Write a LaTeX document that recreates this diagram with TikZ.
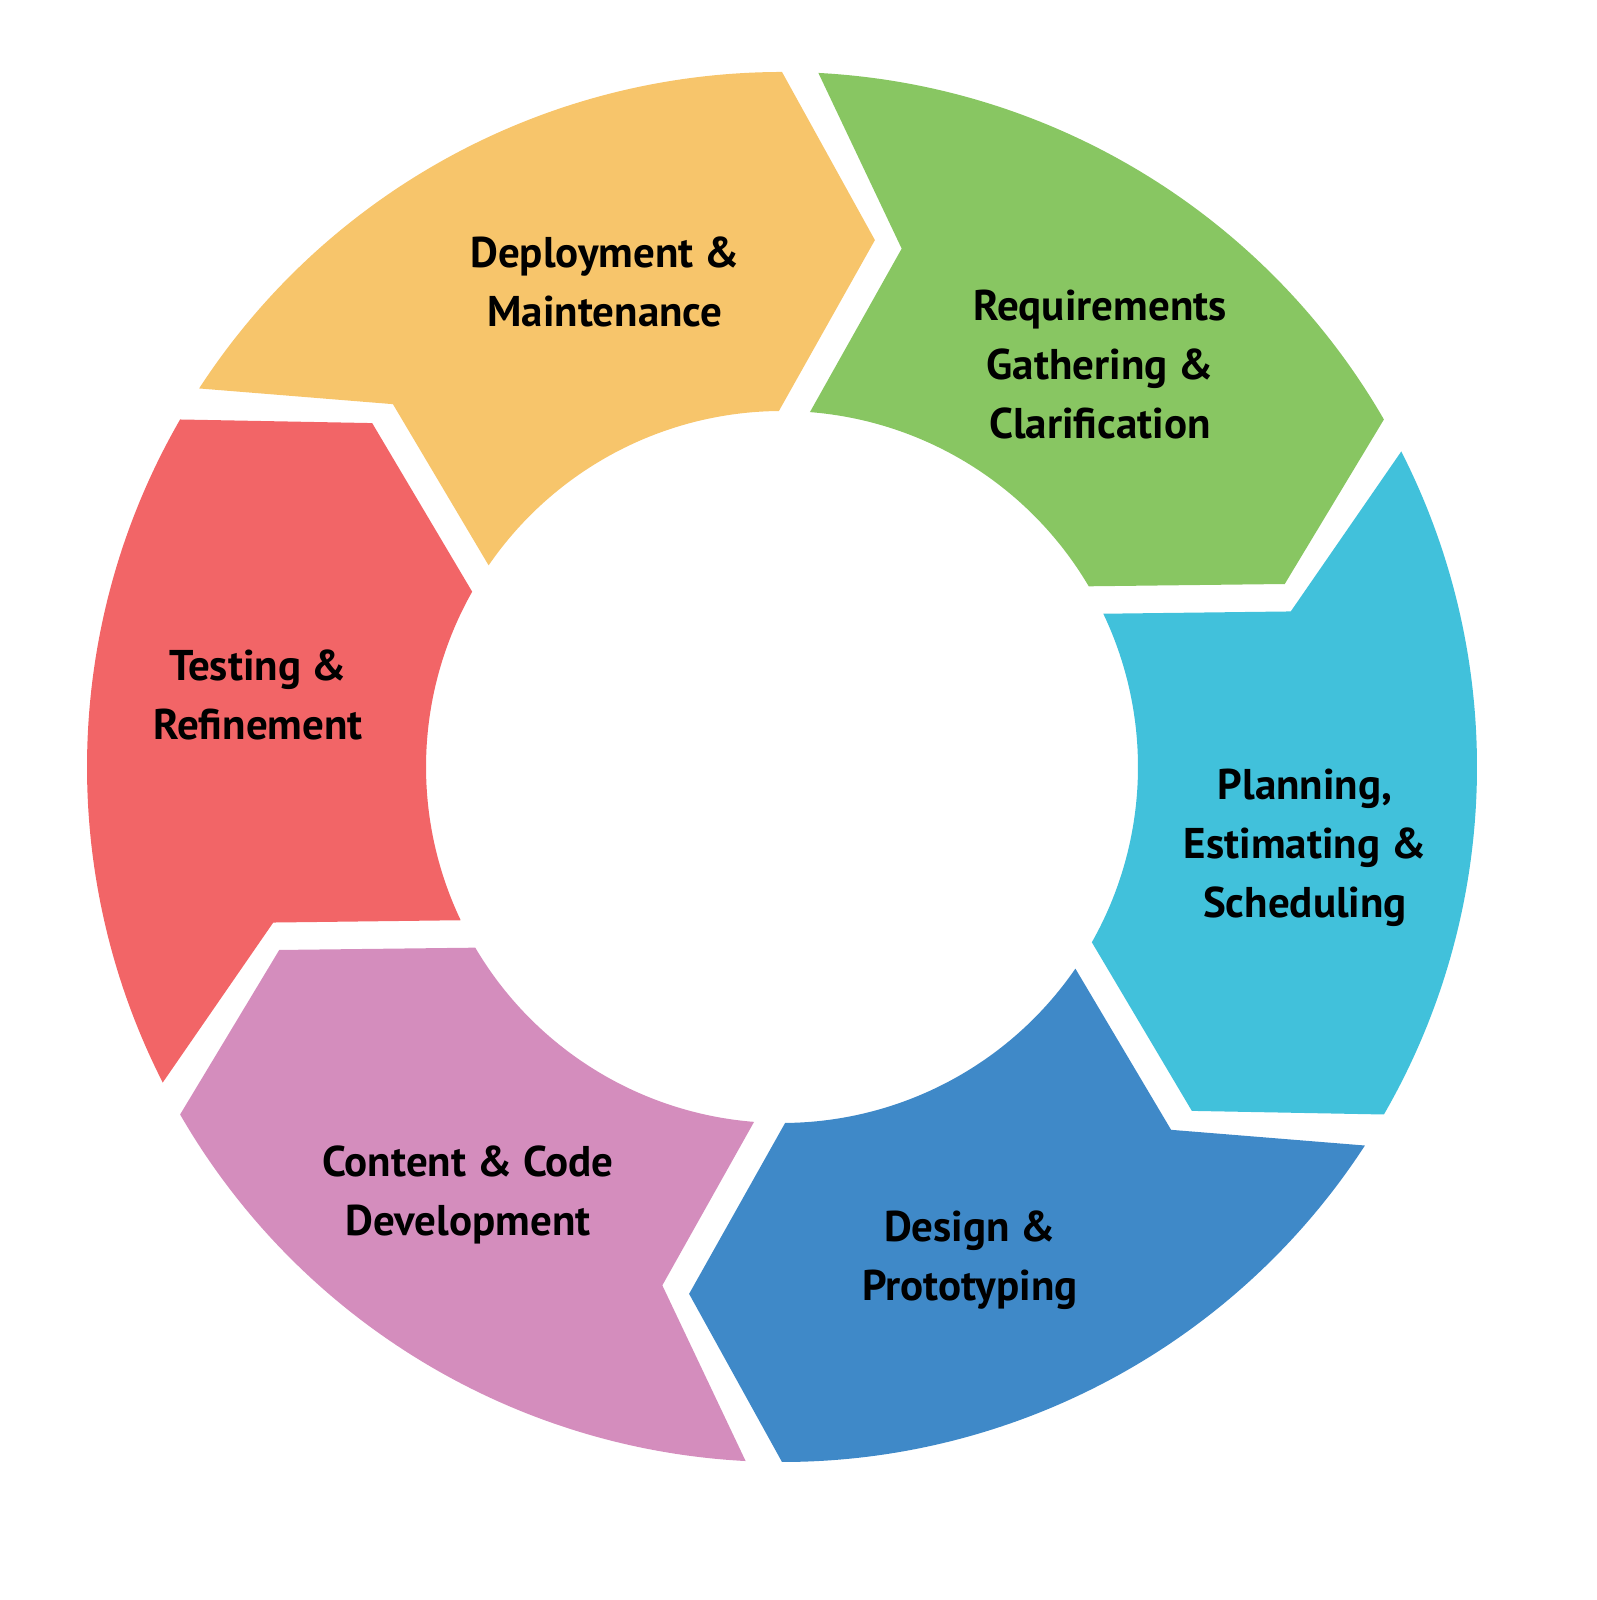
\documentclass[tikz,border=0pt]{standalone}
\usetikzlibrary{calc}
\usepackage{fontspec}
\setmainfont{PT Sans}
\definecolor{cy}{HTML}{F7C56B}
\definecolor{cg}{HTML}{88C662}
\definecolor{cc}{HTML}{41C1DB}
\definecolor{cb}{HTML}{3F89C8}
\definecolor{cp}{HTML}{D48DBD}
\definecolor{cr}{HTML}{F26567}
\begin{document}
\begin{tikzpicture}[x=1pt,y=1pt,
  lab/.style={align=center,font=\bfseries\fontsize{43}{59}\selectfont,text=black}]
\useasboundingbox (0,0) rectangle (1597,1600);
\coordinate (C) at (782,833);
\foreach \B/\col in {149/cy,89/cg,29/cc,-31/cb,-91/cp,-151/cr}{
  \pgfmathsetmacro{\a}{\B-3.5}
  \pgfmathsetmacro{\b}{\B-12}
  \pgfmathsetmacro{\c}{\B-2}
  \pgfmathsetmacro{\d}{\B-59}
  \pgfmathsetmacro{\e}{\B-69}
  \pgfmathsetmacro{\f}{\B-58.5}
  \fill[\col] ($(C)+(\a:356)$) -- ($(C)+(\b:532)$) -- ($(C)+(\c:695)$)
    arc[start angle=\c, end angle=\d, radius=695]
    -- ($(C)+(\e:535)$) -- ($(C)+(\f:356)$)
    arc[start angle=\f, end angle=\a, radius=356] -- cycle;
}
\node[lab] (n1) at (605,1318) {Deployment \&\\Maintenance};
\node[lab] (n2) at (1100,1235) {Requirements\\Gathering \&\\Clarification};
\node[lab] (n3) at (1305,752) {Planning,\\Estimating \&\\Scheduling};
\node[lab] (n4) at (970,340) {Design \&\\Prototyping};
\node[lab] (n5) at (468,405) {Content \& Code\\Development};
\node[lab] (n6) at (258,905) {Testing \&\\Refinement};
\end{tikzpicture}
\end{document}
